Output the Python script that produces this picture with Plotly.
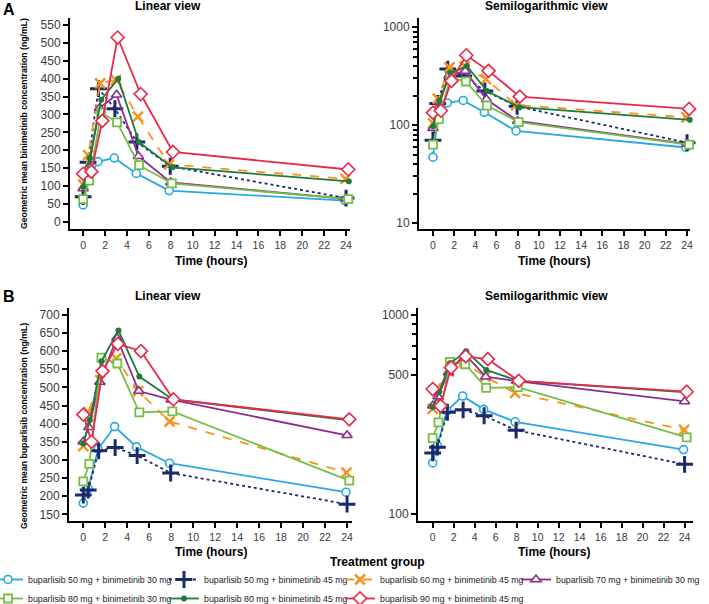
import plotly.graph_objects as go

# ---------------- data ----------------
groups = [
    "buparlisib 50 mg + binimetinib 30 mg",
    "buparlisib 50 mg + binimetinib 45 mg",
    "buparlisib 60 mg + binimetinib 45 mg",
    "buparlisib 70 mg + binimetinib 30 mg",
    "buparlisib 80 mg + binimetinib 30 mg",
    "buparlisib 80 mg + binimetinib 45 mg",
    "buparlisib 90 mg + binimetinib 45 mg",
]

# sampling times (hours) per group
time_b50_n30 = [0, 0.45, 1.35, 2.85, 4.85, 7.85, 23.9]
time_b50_n45 = [0, 0.45, 1.4, 2.9, 4.9, 7.95, 24.0]
time_b60_n45 = [0, 0.45, 1.55, 3.0, 5.0, 7.85, 23.95]
time_b70_n30 = [0, 0.5, 1.5, 3.05, 5.05, 8.0, 24.0]
time_b80_n30 = [0, 0.55, 1.65, 3.1, 5.1, 8.1, 24.2]
time_b80_n45 = [0, 0.6, 1.65, 3.2, 5.1, 8.15, 24.25]
time_b90_n45 = [0, 0.75, 1.75, 3.15, 5.25, 8.2, 24.2]

# geometric mean binimetinib concentration (ng/mL)
bini_b50_n30 = [47, 116, 168, 178, 135, 87, 59]
bini_b50_n45 = [70, 166, 372, 316, 223, 155, 66]
bini_b60_n45 = [104, 186, 387, 396, 294, 160, 120]
bini_b70_n30 = [93, 152, 318, 355, 183, 110, 64]
bini_b80_n30 = [63, 115, 305, 278, 158, 107, 63]
bini_b80_n45 = [97, 178, 341, 400, 222, 152, 113]
bini_b90_n45 = [134, 140, 282, 515, 357, 195, 146]

# geometric mean buparlisib concentration (ng/mL)
bupa_b50_n30 = [181, 221, 330, 392, 336, 291, 211]
bupa_b50_n45 = [203, 217, 325, 334, 312, 264, 178]
bupa_b60_n45 = [338, 432, 520, 580, 490, 406, 265]
bupa_b70_n30 = [350, 390, 515, 637, 490, 466, 368]
bupa_b80_n30 = [241, 289, 582, 566, 431, 434, 243]
bupa_b80_n45 = [345, 410, 572, 657, 530, 467, 409]
bupa_b90_n45 = [425, 350, 545, 620, 600, 467, 412]

times = [time_b50_n30, time_b50_n45, time_b60_n45, time_b70_n30,
         time_b80_n30, time_b80_n45, time_b90_n45]
bini = [bini_b50_n30, bini_b50_n45, bini_b60_n45, bini_b70_n30,
        bini_b80_n30, bini_b80_n45, bini_b90_n45]
bupa = [bupa_b50_n30, bupa_b50_n45, bupa_b60_n45, bupa_b70_n30,
        bupa_b80_n30, bupa_b80_n45, bupa_b90_n45]

x_ticks = [0, 2, 4, 6, 8, 10, 12, 14, 16, 18, 20, 22, 24]
bini_lin_ticks = [0, 50, 100, 150, 200, 250, 300, 350, 400, 450, 500, 550]
bini_log_ticks = [10, 100, 1000]
bini_log_minor = [20, 30, 40, 50, 60, 70, 80, 90, 200, 300, 400, 500, 600, 700, 800, 900]
bupa_lin_ticks = [150, 200, 250, 300, 350, 400, 450, 500, 550, 600, 650, 700]
bupa_log_ticks = [100, 500, 1000]
bupa_log_minor = [600, 700, 800, 900]

# ---------------- styles ----------------
colors = ["#27A9E1", "#1B2A6B", "#F7941E", "#8D2C8F", "#74BE45", "#1F7A3B", "#E8294B"]
dashes = ["solid", "dot", "dash", "solid", "solid", "solid", "solid"]
symbols = ["circle", "cross-thin", "x-thin", "triangle-up", "square", "circle", "diamond"]
msizes = [8, 12, 10, 9, 8, 6, 10]
filled = [False, True, True, False, False, True, False]
mlw = [1.6, 3, 2.5, 1.6, 1.8, 0, 1.6]

W, H = 709, 604
FONT = "Arial, Liberation Sans, sans-serif"


def fx(px):
    return px / W


def fy(py):
    return 1 - py / H


fig = go.Figure()

panels = [
    ("x", "y", bini, True),
    ("x2", "y2", bini, False),
    ("x3", "y3", bupa, False),
    ("x4", "y4", bupa, False),
]

for xa, ya, data, show in panels:
    for i, g in enumerate(groups):
        c = colors[i]
        fig.add_trace(go.Scatter(
            x=times[i], y=data[i], xaxis=xa, yaxis=ya,
            mode="lines+markers", name=g, legendgroup=g, showlegend=show,
            line=dict(color=c, width=1.8, dash=dashes[i]),
            marker=dict(symbol=symbols[i], size=msizes[i],
                        color=c if filled[i] else "white",
                        line=dict(color=c, width=mlw[i])),
            cliponaxis=False,
        ))

axis_common = dict(showline=True, linewidth=2, linecolor="black", ticks="outside",
                   ticklen=5, tickwidth=1.5, tickcolor="black", showgrid=False,
                   zeroline=False)
xfont = dict(family=FONT, size=10.5, color="#3a3a3a")
yfont = dict(family=FONT, size=12, color="#3a3a3a")

top_y = [fy(229), fy(18)]
bot_y = [fy(521), fy(308)]

fig.update_layout(
    width=W, height=H, margin=dict(l=0, r=0, t=0, b=0, autoexpand=False),
    paper_bgcolor="white", plot_bgcolor="white",
    font=dict(family=FONT),
    xaxis=dict(domain=[fx(70), fx(350)], range=[-1.2, 24.36], anchor="y",
               tickvals=x_ticks, tickfont=xfont, **axis_common),
    yaxis=dict(domain=top_y, range=[-20.4, 569.6], anchor="x",
               tickvals=bini_lin_ticks, tickfont=yfont, **axis_common),
    xaxis2=dict(domain=[fx(419), fx(690)], range=[-1.32, 24.28], anchor="y2",
                tickvals=x_ticks, tickfont=xfont, **axis_common),
    yaxis2=dict(domain=top_y, type="log", range=[0.939, 3.092], anchor="x2",
                tickvals=bini_log_ticks, tickfont=yfont,
                minor=dict(tickvals=bini_log_minor, ticks="outside", ticklen=4,
                           tickwidth=1.5, tickcolor="black"),
                **axis_common),
    xaxis3=dict(domain=[fx(69), fx(352)], range=[-1.3, 24.45], anchor="y3",
                tickvals=x_ticks, tickfont=xfont, **axis_common),
    yaxis3=dict(domain=bot_y, range=[131.6, 719], anchor="x3",
                tickvals=bupa_lin_ticks, tickfont=yfont, **axis_common),
    xaxis4=dict(domain=[fx(418), fx(693)], range=[-1.4, 24.8], anchor="y4",
                tickvals=x_ticks, tickfont=xfont, **axis_common),
    yaxis4=dict(domain=bot_y, type="log", range=[1.966, 3.035], anchor="x4",
                tickvals=bupa_log_ticks, tickfont=yfont,
                minor=dict(tickvals=bupa_log_minor, ticks="outside", ticklen=4,
                           tickwidth=1.5, tickcolor="black"),
                **axis_common),
    legend=dict(orientation="h", x=0, xanchor="left", y=fy(565), yanchor="top",
                entrywidth=143, entrywidthmode="pixels", indentation=-12,
                tracegroupgap=0,
                font=dict(family=FONT, size=8.8, color="#222"),
                bgcolor="rgba(0,0,0,0)", itemclick=False, itemdoubleclick=False),
    showlegend=True,
)


def txt(s, px, py, size=12, bold=True, angle=0):
    fig.add_annotation(
        text=f"<b>{s}</b>" if bold else s, x=fx(px), y=fy(py), xref="paper", yref="paper",
        showarrow=False, textangle=angle, xanchor="center", yanchor="middle",
        font=dict(family=FONT, size=size, color="black"),
    )


txt("A", 9, 9, size=16)
txt("B", 9, 296, size=16)
txt("Linear view", 168, 6)
txt("Semilogarithmic view", 546, 6)
txt("Linear view", 168, 296)
txt("Semilogarithmic view", 546, 296)
txt("Time (hours)", 211, 261)
txt("Time (hours)", 554, 261)
txt("Time (hours)", 211, 552)
txt("Time (hours)", 554, 552)
txt("Geometric mean binimetinib concentration (ng/mL)", 24, 124, size=8.7, angle=-90)
txt("Geometric mean buparlisib concentration (ng/mL)", 24, 426, size=8.7, angle=-90)
txt("Treatment group", 378, 562)

fig.write_html(
    "out.html",
    config={"displayModeBar": False},
    post_script="document.body.style.margin='0';document.body.style.padding='0';",
)
